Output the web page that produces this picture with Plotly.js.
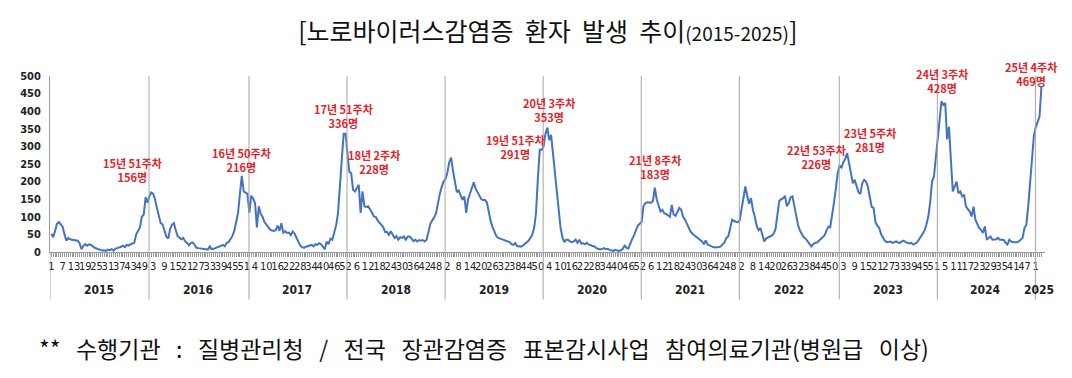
<!DOCTYPE html>
<html><head><meta charset="utf-8">
<script src="https://cdn.plot.ly/plotly-3.0.1.min.js"></script>
<style>html,body{margin:0;padding:0;background:#fff}#chart{width:1072px;height:378px}</style>
</head><body><div id="chart"></div>
<script>
// ---- data (weekly patients) ----
const years = [2015,2016,2017,2018,2019,2020,2021,2022,2023,2024,2025];
const y2015 = [52,42,60,80,85,78,72,50,32,40,36,35,34,34,32,25,8,18,22,18,22,20,15,12,10,7,6,4,5,3,7,5,8,4,10,11,12,15,18,14,20,18,22,25,26,50,62,70,100,106,156,140];
const y2016 = [158,169,165,150,125,100,82,78,62,44,38,65,78,82,62,45,40,36,40,30,26,19,26,27,20,12,11,10,9,10,8,7,16,8,9,11,14,16,16,20,16,26,28,35,45,60,82,110,165,216,172,168,165];
const y2017 = [111,160,152,140,70,130,108,100,85,78,70,64,61,60,62,75,60,82,55,59,54,55,48,58,52,40,30,18,14,12,15,16,18,20,16,22,20,25,22,15,8,30,22,38,35,55,75,110,185,260,336,336];
const y2018 = [285,228,224,177,172,180,191,111,172,130,128,130,122,112,101,100,90,82,77,70,57,57,49,59,50,40,45,35,42,40,44,35,44,44,38,31,35,30,34,32,34,30,35,55,80,90,98,110,140,165,185,200];
const y2019 = [207,225,255,268,230,195,170,175,160,148,158,111,150,165,185,198,180,170,163,150,148,148,140,110,87,70,55,45,40,38,36,35,32,30,28,22,20,25,16,16,15,18,22,26,32,40,49,68,110,210,291,290];
const y2020 = [300,335,353,318,333,280,225,160,115,70,42,28,35,35,30,28,30,35,26,35,24,25,22,26,21,20,16,16,11,10,7,9,11,8,9,6,5,3,6,4,3,5,9,18,12,10,26,37,48,60,75,80];
const y2021 = [85,130,139,141,140,140,145,183,150,128,115,120,110,108,105,100,134,106,103,115,125,120,100,92,80,68,58,52,48,44,38,35,30,22,33,21,18,16,14,13,13,14,16,21,28,40,45,68,92,88,87,84];
const y2022 = [90,125,150,186,160,137,153,120,101,75,62,68,50,30,38,42,44,46,52,65,105,145,150,152,160,130,139,155,158,130,100,75,60,52,42,38,30,25,16,22,26,27,32,36,40,47,60,72,70,100,140,180,226];
const y2023 = [245,240,255,265,281,255,225,195,205,190,170,165,195,205,200,185,150,128,125,85,75,68,50,40,32,28,28,30,26,28,30,27,26,30,32,28,27,24,26,21,24,27,35,44,52,60,78,100,140,200,214,271];
const y2024 = [337,375,428,418,423,320,356,262,172,186,200,167,172,158,163,129,122,115,101,129,92,82,68,63,54,73,35,40,44,35,35,36,40,35,35,34,26,21,35,30,28,27,28,30,35,40,68,77,130,200,265,330];
const y2025 = [355,372,385,469];
const seriesByYear = [y2015,y2016,y2017,y2018,y2019,y2020,y2021,y2022,y2023,y2024,y2025];
// labelled peaks: [year, week]
const peakLabels = [[2015,51],[2016,50],[2017,51],[2018,2],[2019,51],[2020,3],[2021,8],[2022,53],[2023,5],[2024,3],[2025,4]];

// ---- build series ----
const xs = [], ys = [], weekOf = [], yearStart = [];
let n = 0;
seriesByYear.forEach(arr => {
  yearStart.push(n);
  arr.forEach((v, w) => { xs.push(n); ys.push(v); weekOf.push(w + 1); n++; });
});
const tickvals = [], ticktext = [];
for (let i = 0; i < xs.length; i += 6) { tickvals.push(i); ticktext.push(String(weekOf[i])); }

// ---- styling / placement ----
const NB = '\u00A0';
const sp = k => NB.repeat(k);
const narrow = 'Liberation Sans Narrow, DejaVu Sans Condensed, Liberation Sans';
const labelShift = [[-13,27],[0,16],[0,18],[25,10],[-24,3],[2,18],[0,21],[-21,15],[23,13],[1,20],[-10,13]];
const annotations = [];
peakLabels.forEach((p, k) => {
  const yi = years.indexOf(p[0]);
  const idx = yearStart[yi] + p[1] - 1;
  const val = ys[idx];
  annotations.push({
    x: xs[idx], y: val, xref: 'x', yref: 'y', showarrow: false,
    text: String(p[0]).slice(2) + '년 ' + p[1] + '주차<br>' + val + '명',
    xshift: labelShift[k][0], yshift: labelShift[k][1],
    font: {family: 'Noto Sans CJK KR', size: 11, color: '#e3242b', weight: 'bold'}
  });
});
years.forEach((yr, k) => {
  const len = seriesByYear[k].length;
  annotations.push({
    x: yearStart[k] + (len - 1) / 2, y: -0.214, xref: 'x', yref: 'paper', showarrow: false,
    text: String(yr), yanchor: 'middle',
    font: {family: narrow, size: 12, color: '#222', weight: 'bold'}
  });
});
const L = 50, R = 27, T = 76, B = 126, W = 1072, H = 378;
const pw = W - L - R, ph = H - T - B;
annotations.push({
  x: (37 - L) / pw, y: (H - B - 348) / ph, xref: 'paper', yref: 'paper', showarrow: false,
  xanchor: 'left', yanchor: 'middle',
  text: '**' + sp(3) + '수행기관' + sp(3) + ':' + sp(3) + '질병관리청' + sp(3) + '/' + sp(3) + '전국' + sp(3) +
        '장관감염증' + sp(3) + '표본감시사업' + sp(3) + '참여의료기관(병원급' + sp(3) + '이상)',
  font: {family: 'Noto Sans CJK KR', size: 23, color: '#111'}
});

const shapes = [];
yearStart.forEach((s, k) => {
  shapes.push({type: 'line', xref: 'x', yref: 'paper', x0: k === 0 ? -0.7 : s - 0.2, x1: k === 0 ? -0.7 : s - 0.2,
    y0: k === 0 ? 0 : 1, y1: -0.27, line: {color: '#a6a6a6', width: 1}});
});

const trace = {x: xs, y: ys, type: 'scatter', mode: 'lines', line: {color: '#4472C4', width: 2}, hoverinfo: 'skip'};

const layout = {
  width: W, height: H, margin: {l: L, r: R, t: T, b: B},
  paper_bgcolor: '#fff', plot_bgcolor: '#fff', showlegend: false,
  title: {text: '[노로바이러스감염증' + sp(2) + '환자' + sp(2) + '발생' + sp(2) + '추이<span style="font-size:19px">(2015-2025)</span>]',
    x: 0.511, xanchor: 'center', y: 1 - 32 / H, yanchor: 'middle', yref: 'container',
    font: {family: 'Noto Sans CJK KR', size: 25, color: '#111'}},
  xaxis: {range: [-0.7, 526.9], tickmode: 'array', tickvals: tickvals, ticktext: ticktext, tickangle: 0,
    ticks: 'outside', ticklen: 4, tickcolor: '#9a9a9a', tickwidth: 1,
    minor: {tickmode: 'array', tickvals: xs, ticks: 'outside', ticklen: 4, tickcolor: '#9a9a9a', tickwidth: 1},
    showline: true, linecolor: '#9a9a9a', showgrid: false, zeroline: false,
    tickfont: {family: narrow, size: 11, color: '#222'}},
  yaxis: {range: [0, 500], dtick: 50, tick0: 0, showline: true, linecolor: '#9a9a9a', showgrid: false, zeroline: false,
    ticks: '', ticklabelstandoff: 6,
    tickfont: {family: narrow, size: 11, color: '#222', weight: 'bold'}},
  annotations: annotations, shapes: shapes
};
Plotly.newPlot('chart', [trace], layout, {displayModeBar: false, staticPlot: true});
</script></body></html>
